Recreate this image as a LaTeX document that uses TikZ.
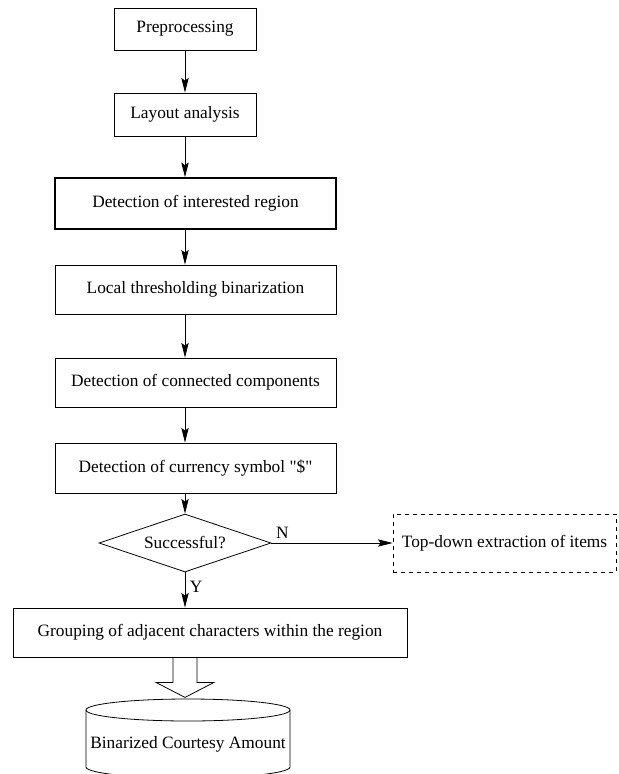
\documentclass[tikz,border=0pt]{standalone}
\usepackage{fontspec}
\setmainfont{Liberation Serif}[Ligatures=TeXOff]
\usetikzlibrary{
  calc,
  positioning,
  arrows.meta,
  shapes.geometric
}

\begin{document}
\begin{tikzpicture}[> ={Stealth[length=11pt,width=5.5pt,inset=2pt]}, x=0.75pt, y=-0.75pt]
  \tikzset{
    procbox/.style={
      draw, rectangle, line width=0.6pt, inner sep=0pt,
      font=\fontsize{13}{15}\selectfont
    },
    decision/.style={
      draw, diamond, aspect=2.97, line width=0.6pt, inner sep=0pt,
      minimum width=129pt, minimum height=43.5pt,
      font=\fontsize{13}{15}\selectfont
    },
    flow/.style={->, line width=0.6pt},
  }
  \useasboundingbox (0,0) rectangle (618,774);

  % main chain
  \node[procbox, minimum width=106.5pt, minimum height=31.5pt] (prep) at (185,29) {Preprocessing};
  \node[procbox, minimum width=106.5pt, minimum height=32.25pt] (layout) at (185,114.5) {Layout analysis};
  \node[procbox, line width=1.2pt, minimum width=210.75pt, minimum height=38.25pt] (region) at (195.5,203.5) {Detection of interested region};
  \node[procbox, minimum width=210.75pt, minimum height=36.75pt] (binar) at (195.5,289.5) {Local thresholding binarization};
  \node[procbox, minimum width=210.75pt, minimum height=36.75pt] (concomp) at (195.5,382.5) {Detection of connected components};
  \node[procbox, minimum width=210.75pt, minimum height=37.5pt] (dollar) at (195.5,468) {Detection of currency symbol "\$"};
  \node[decision] (success) at (185,543) {Successful?};
  \node[procbox, dashed, minimum width=167.25pt, minimum height=43.5pt] (topdown) at (504.5,543) {Top-down extraction of items};
  \node[procbox, minimum width=295.5pt, minimum height=36.75pt] (group) at (210,632.5) {Grouping of adjacent characters within the region};

  \draw[flow] (prep) -- (layout);
  \draw[flow] (layout) -- (layout |- region.north);
  \draw[flow] (region.south -| layout) -- (binar.north -| layout);
  \draw[flow] (binar.south -| layout) -- (concomp.north -| layout);
  \draw[flow] (concomp.south -| layout) -- (dollar.north -| layout);
  \draw[flow] (dollar.south -| layout) -- (success.north);
  \draw[flow] (success.east) -- (topdown.west)
  node[pos=0, above right, font=\fontsize{13}{15}\selectfont] {N};
  \draw[flow] (success.south) -- node[right, pos=0.4, font=\fontsize{13}{15}\selectfont] {Y} (group.north -| success);

  % block arrow into the store
  \draw[line width=0.6pt] ($(group.south -| success)+(-12,0)$) -- ++(0,25) -- ++(-17,0)
  -- ($(group.south -| success)+(0,40)$) -- ++(29,-15) -- ++(-17,0) -- ++(0,-25);

  % store
  \node[font=\fontsize{13}{15}\selectfont] (amount) at (188,744) {Binarized Courtesy Amount};
  \draw[line width=0.6pt] ($(amount)+(0,-34)$) ellipse [x radius=76.5pt, y radius=8.25pt];
  \draw[line width=0.6pt] ($(amount)+(-102,-34)$) -- ($(amount)+(-102,23)$)
  arc[start angle=180, end angle=360, x radius=76.5pt, y radius=8.25pt] -- ($(amount)+(102,-34)$);
\end{tikzpicture}
\end{document}
